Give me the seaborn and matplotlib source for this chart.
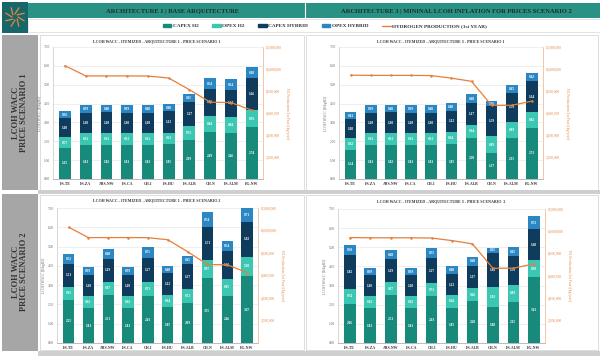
import numpy as np
import pandas as pd
import seaborn as sns
import matplotlib.pyplot as plt
from matplotlib.patches import Rectangle
from matplotlib.lines import Line2D
from matplotlib.patches import Patch
from matplotlib.ticker import FuncFormatter, FixedLocator

sites = ["ES-TE", "ES-ZA", "ARS-NW", "ES-CA", "CH-I", "ES-HU", "ES-ALB", "CH-N", "ES-ALM", "EG-NW"]

# architecture 1 - price scenario 1
a1p1_capex_h2 = [1.65, 1.81, 1.82, 1.81, 1.81, 1.85, 2.09, 2.49, 2.46, 2.74]
a1p1_opex_h2 = [0.57, 0.61, 0.61, 0.61, 0.61, 0.61, 0.72, 0.84, 0.84, 0.93]
a1p1_capex_hyb = [1.00, 1.10, 1.10, 1.10, 1.10, 1.12, 1.27, 1.46, 1.44, 1.66]
a1p1_opex_hyb = [0.36, 0.39, 0.40, 0.39, 0.40, 0.40, 0.45, 0.54, 0.54, 0.60]

# architecture 3 - price scenario 1
a3p1_capex_h2 = [1.54, 1.81, 1.82, 1.81, 1.81, 1.85, 2.20, 1.37, 2.15, 2.73]
a3p1_opex_h2 = [0.62, 0.61, 0.61, 0.61, 0.61, 0.64, 0.64, 0.89, 0.89, 0.82]
a3p1_capex_hyb = [1.00, 1.10, 1.10, 1.10, 1.10, 1.12, 1.17, 1.59, 1.51, 1.64]
a3p1_opex_hyb = [0.41, 0.39, 0.40, 0.39, 0.40, 0.40, 0.48, 0.26, 0.45, 0.42]

# architecture 1 - price scenario 2
a1p2_capex_h2 = [2.25, 1.81, 2.51, 1.81, 2.43, 1.85, 2.09, 3.35, 2.46, 3.47]
a1p2_opex_h2 = [0.65, 0.62, 0.67, 0.62, 0.73, 0.64, 0.72, 0.97, 0.85, 1.00]
a1p2_capex_hyb = [1.21, 1.10, 1.19, 1.10, 1.27, 1.12, 1.27, 1.71, 1.46, 1.82]
a1p2_opex_hyb = [0.52, 0.39, 0.48, 0.39, 0.55, 0.40, 0.45, 0.74, 0.54, 0.71]

# architecture 3 - price scenario 2
a3p2_capex_h2 = [2.06, 1.81, 2.51, 1.81, 2.43, 1.85, 2.20, 1.88, 2.15, 3.43]
a3p2_opex_h2 = [0.74, 0.62, 0.67, 0.62, 0.72, 0.64, 0.66, 1.02, 0.89, 0.90]
a3p2_capex_hyb = [1.82, 1.10, 1.19, 1.10, 1.27, 1.12, 1.17, 1.82, 1.51, 1.60]
a3p2_opex_hyb = [0.50, 0.39, 0.48, 0.39, 0.55, 0.40, 0.48, 0.25, 0.45, 0.72]

# hydrogen production, 1st year [kg]
prod_arch1 = [10300000, 9370000, 9370000, 9370000, 9360000, 9180000, 8120000, 6980000, 6950000, 6260000]
prod_arch3 = [9440000, 9420000, 9420000, 9420000, 9400000, 9170000, 8880000, 6690000, 6700000, 7080000]

C_CAPEX_H2 = "#178a7b"
C_OPEX_H2 = "#3cc7b3"
C_CAPEX_HYB = "#0f3b5c"
C_OPEX_HYB = "#2b87c4"
C_LINE = "#e4803a"

sns.set_style("white")
plt.rcParams["font.family"] = ["Liberation Serif", "DejaVu Serif"]

W, H = 600, 356
fig = plt.figure(figsize=(6, 3.56), dpi=100)
bg = fig.add_axes([0, 0, 1, 1])
bg.set_xlim(0, W)
bg.set_ylim(H, 0)
bg.axis("off")


def px_axes(l, t, r, b):
    return fig.add_axes([l / W, 1 - b / H, (r - l) / W, (b - t) / H])


# frame / headers
bg.add_patch(Rectangle((2, 2), 26, 31, fc="#17666a", ec="none"))
for k in range(8):
    a = np.pi * k / 4
    bg.plot([15 + 3 * np.cos(a), 15 + 10 * np.cos(a + 0.4)],
            [17 + 3 * np.sin(a), 17 + 10 * np.sin(a + 0.4)], color="#e8873c", lw=0.9)
bg.add_patch(Rectangle((28, 3), 572, 15, fc="#2a9285", ec="none"))
bg.plot([305, 305], [3, 18], color="white", lw=0.8)
bg.text(172, 11, "ARCHITECTURE 1 | BASE ARQUITECTURE", ha="center", va="center",
        fontsize=4.7, fontweight="bold", color="#1a2a2a")
bg.text(456, 11, "ARCHITECTURE 3 | MININAL LCOH INFLATION FOR PRICES SCENARIO 2", ha="center",
        va="center", fontsize=4.7, fontweight="bold", color="#1a2a2a")
bg.add_patch(Rectangle((28, 19), 572, 13, fc="white", ec="#cfcfcf", lw=0.4))

bg.add_patch(Rectangle((2, 35), 36, 155, fc="#a6a6a6", ec="none"))
bg.add_patch(Rectangle((2, 194), 36, 157, fc="#a6a6a6", ec="none"))
bg.text(20, 113, "LCOH WACC\nPRICE SCENARIO 1", rotation=90, ha="center", va="center",
        multialignment="center", fontsize=6, fontweight="bold", color="#333333", linespacing=1.1)
bg.text(20, 272, "LCOH WACC\nPRICE SCENARIO 2", rotation=90, ha="center", va="center",
        multialignment="center", fontsize=6, fontweight="bold", color="#333333", linespacing=1.1)

bg.add_patch(Rectangle((38, 190), 562, 4, fc="#cfcfcf", ec="none"))
bg.add_patch(Rectangle((38, 351), 562, 5, fc="#cfcfcf", ec="none"))
for box in [(40, 35, 264, 155), (306, 35, 292, 155), (40, 195, 264, 155), (306, 195, 292, 155)]:
    bg.add_patch(Rectangle(box[:2], box[2], box[3], fc="none", ec="#d0d0d0", lw=0.5))

handles = [Patch(color=C_CAPEX_H2), Patch(color=C_OPEX_H2), Patch(color=C_CAPEX_HYB),
           Patch(color=C_OPEX_HYB), Line2D([0], [0], color=C_LINE, lw=1)]
labels = ["CAPEX H2", "OPEX H2", "CAPEX HYBRID", "OPEX HYBRID", "HYDROGEN PRODUCTION (1st YEAR)"]
fig.legend(handles, labels, loc="center", bbox_to_anchor=(325 / W, 1 - 26 / H), ncol=5,
           frameon=False, prop={"size": 3.8, "weight": "bold"}, handlelength=1.6,
           handleheight=0.7, handletextpad=0.3, columnspacing=2.6, labelcolor="#333333")


def panel(box, title, title_xy, capex_h2, opex_h2, capex_hyb, opex_hyb, prod):
    ax = px_axes(*box)
    ax.set_facecolor("none")
    df = pd.DataFrame({"site": sites})
    df["c1"] = np.array(capex_h2)
    df["c2"] = df["c1"] + np.array(opex_h2)
    df["c3"] = df["c2"] + np.array(capex_hyb)
    df["c4"] = df["c3"] + np.array(opex_hyb)
    for col, c in [("c4", C_OPEX_HYB), ("c3", C_CAPEX_HYB), ("c2", C_OPEX_H2), ("c1", C_CAPEX_H2)]:
        sns.barplot(data=df, x="site", y=col, color=c, saturation=1, width=0.57,
                    errorbar=None, linewidth=0, ax=ax, zorder=2)
    bottoms = [np.zeros(len(sites)), df["c1"].values, df["c2"].values, df["c3"].values]
    for vals, bot in zip([capex_h2, opex_h2, capex_hyb, opex_hyb], bottoms):
        for i, (v, b0) in enumerate(zip(vals, bot)):
            ax.text(i, b0 + v / 2, f"{v:.2f}", ha="center", va="center", fontsize=2.5,
                    color="white", fontweight="bold", zorder=3)
    ax.set_ylim(0, 7)
    ax.set_yticks(np.arange(0, 8))
    ax.yaxis.set_major_formatter(FuncFormatter(lambda v, p: f"{v:.2f}"))
    ax.yaxis.grid(True, color="#e3e3e3", lw=0.4)
    ax.set_axisbelow(True)
    ax.tick_params(axis="y", labelsize=2.6, length=0, pad=2, colors="#666666")
    ax.tick_params(axis="x", labelsize=2.8, length=0, pad=2, colors="#333333")
    for lab in ax.get_xticklabels():
        lab.set_fontweight("bold")
    ax.xaxis.set_minor_locator(FixedLocator(np.arange(-0.5, 10, 1)))
    ax.tick_params(axis="x", which="minor", length=1.2, width=0.4, color="#999999")
    ax.set_xlabel("")
    ax.set_ylabel(r"LCOH WACC [\$/kgH2]", fontsize=2.6, color="#666666", labelpad=1.5)
    for s in ["top", "right"]:
        ax.spines[s].set_visible(False)
    ax.spines["left"].set_color("#c8c8c8")
    ax.spines["bottom"].set_color("#a0a0a0")
    ax.spines["left"].set_linewidth(0.5)
    ax.spines["bottom"].set_linewidth(0.5)

    ax2 = ax.twinx()
    sns.lineplot(x=np.arange(len(sites)), y=prod, ax=ax2, color=C_LINE, lw=0.9,
                 marker="o", markersize=1.8, markeredgewidth=0)
    ax2.set_ylim(0, 12000000)
    ax2.set_yticks(np.arange(0, 12000001, 2000000))
    ax2.yaxis.set_major_formatter(FuncFormatter(lambda v, p: f"{v:,.0f}" if v > 0 else ""))
    ax2.tick_params(axis="y", labelsize=2.6, length=0, pad=2, colors=C_LINE)
    ax2.set_ylabel("H2 Production (1st Year) [kg/year]", fontsize=2.6, color=C_LINE,
                   rotation=270, labelpad=5)
    for s in ["top", "left", "bottom"]:
        ax2.spines[s].set_visible(False)
    ax2.spines["right"].set_color("#e9b08a")
    ax2.spines["right"].set_linewidth(0.5)
    ax.set_xlim(-0.58, 9.55)
    bg.text(title_xy[0], title_xy[1], title, ha="center", va="center", fontsize=2.9,
            fontweight="bold", color="#333333")


panel((53, 47, 263, 179), "LCOH WACC - ITEMIZED - ARQUITECTURE 1 - PRICE SCENARIO 1", (157, 41),
      a1p1_capex_h2, a1p1_opex_h2, a1p1_capex_hyb, a1p1_opex_hyb, prod_arch1)
panel((339, 47, 543, 179), "LCOH WACC - ITEMIZED - ARQUITECTURE 3 - PRICE SCENARIO 1", (441, 41),
      a3p1_capex_h2, a3p1_opex_h2, a3p1_capex_hyb, a3p1_opex_hyb, prod_arch3)
panel((57, 208, 258, 343), "LCOH WACC - ITEMIZED - ARQUITECTURE 1 - PRICE SCENARIO 2", (157, 200),
      a1p2_capex_h2, a1p2_opex_h2, a1p2_capex_hyb, a1p2_opex_hyb, prod_arch1)
panel((338, 209, 545, 343), "LCOH WACC - ITEMIZED - ARQUITECTURE 3 - PRICE SCENARIO  2", (441, 201),
      a3p2_capex_h2, a3p2_opex_h2, a3p2_capex_hyb, a3p2_opex_hyb, prod_arch3)

fig.savefig("out.png", dpi=100)
